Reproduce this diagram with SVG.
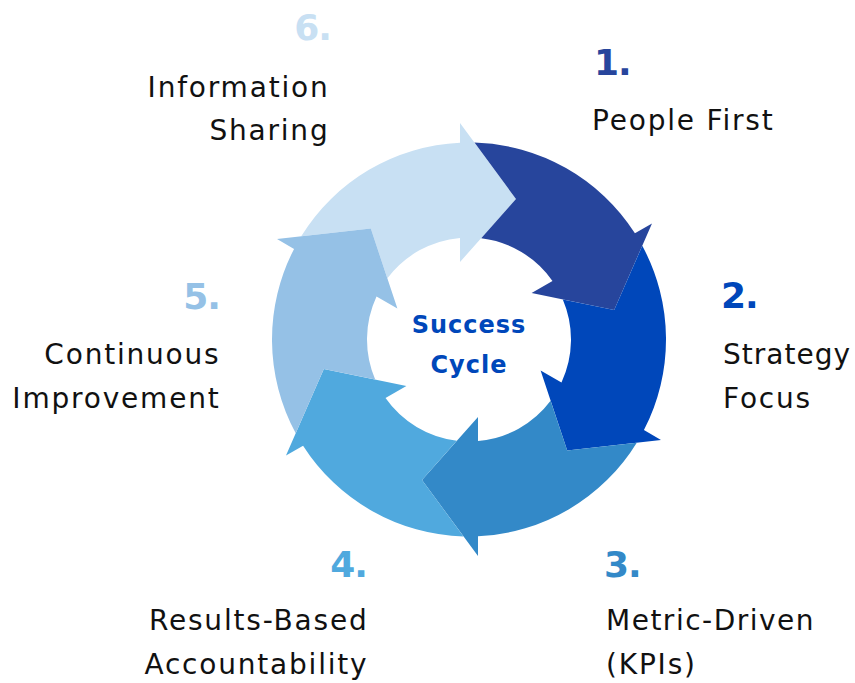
<svg xmlns="http://www.w3.org/2000/svg" xmlns:xlink="http://www.w3.org/1999/xlink" width="855" height="683" viewBox="0 0 855 683">
<defs>
<style>
.lbl{font-family:"DejaVu Sans",Verdana,sans-serif;font-size:28px;fill:#111;letter-spacing:1.8px}
.num{font-family:"DejaVu Sans",Verdana,sans-serif;font-size:36px;font-weight:bold;letter-spacing:-1px}
.ctr{font-family:"DejaVu Sans",Verdana,sans-serif;font-size:24px;font-weight:bold;fill:#0047BA;letter-spacing:1px}
.end{text-anchor:end}
</style>
<path id="arrow" d="M 301.2 236.3 A 197 197 0 0 1 460 142.7 L 460 123 L 516 199 L 460 262 L 460 237.9 A 102 102 0 0 0 387.4 278.3 L 370.8 228.55 Z"/>
</defs>
<rect width="855" height="683" fill="#fff"/>
<g id="connectors">
<use xlink:href="#arrow" href="#arrow" fill="#C8E0F3"/>
<use xlink:href="#arrow" href="#arrow" fill="#27459C" transform="rotate(60 469 339.5)"/>
<use xlink:href="#arrow" href="#arrow" fill="#0047BA" transform="rotate(120 469 339.5)"/>
<use xlink:href="#arrow" href="#arrow" fill="#3389C8" transform="rotate(180 469 339.5)"/>
<use xlink:href="#arrow" href="#arrow" fill="#50A9DE" transform="rotate(240 469 339.5)"/>
<use xlink:href="#arrow" href="#arrow" fill="#95C1E6" transform="rotate(300 469 339.5)"/>
</g>
<g id="center">
<text class="ctr" x="469" y="333" text-anchor="middle">Success</text>
<text class="ctr" x="469" y="373" text-anchor="middle">Cycle</text>
</g>
<g id="step1">
<text class="num" x="594" y="75" fill="#27459C">1.</text>
<text class="lbl" x="592" y="130">People First</text>
</g>
<g id="step2">
<text class="num" x="721" y="308" fill="#0047BA">2.</text>
<text class="lbl" x="723" y="364" style="letter-spacing:1px">Strategy</text>
<text class="lbl" x="723" y="408">Focus</text>
</g>
<g id="step3">
<text class="num" x="604" y="577" fill="#3389C8">3.</text>
<text class="lbl" x="606" y="630" style="letter-spacing:1.5px">Metric-Driven</text>
<text class="lbl" x="606" y="674">(KPIs)</text>
</g>
<g id="step4">
<text class="num end" x="367" y="577" fill="#50A9DE">4.</text>
<text class="lbl end" x="368.5" y="630">Results-Based</text>
<text class="lbl end" x="368.5" y="674">Accountability</text>
</g>
<g id="step5">
<text class="num end" x="220" y="309" fill="#95C1E6">5.</text>
<text class="lbl end" x="220.5" y="364">Continuous</text>
<text class="lbl end" x="220.5" y="408">Improvement</text>
</g>
<g id="step6">
<text class="num end" x="331" y="40" fill="#C8E0F3">6.</text>
<text class="lbl end" x="329.5" y="97">Information</text>
<text class="lbl end" x="329.5" y="140">Sharing</text>
</g>
</svg>
